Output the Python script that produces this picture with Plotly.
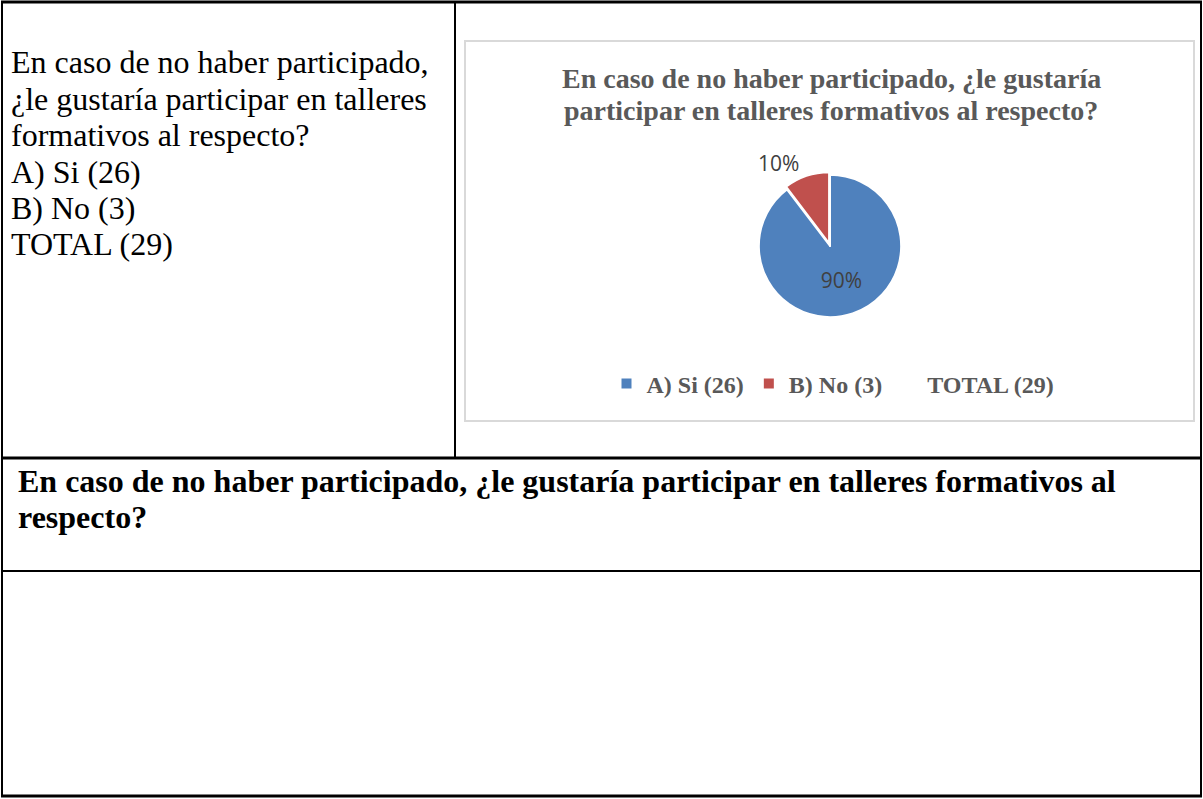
import plotly.graph_objects as go

W, H = 1203, 799

labels = ["A) Si (26)", "B) No (3)", "TOTAL (29)"]
values = [26, 3, 0]
colors = ["#4f81bd", "#c0504d", "rgba(0,0,0,0)"]
title_lines = ["En caso de no haber participado, ¿le gustaría",
               "participar en talleres formativos al respecto?"]
left_lines = ["En caso de no haber participado,", "¿le gustaría participar en talleres",
              "formativos al respecto?", "A) Si (26)", "B) No (3)", "TOTAL (29)"]
bottom_lines = ["En caso de no haber participado, ¿le gustaría participar en talleres formativos al",
                "respecto?"]

def px(x):
    return x / W

def py(y):
    return 1 - y / H

fig = go.Figure()
fig.add_trace(go.Pie(
    labels=["<b>%s</b>" % l for l in labels], values=values, sort=False,
    direction="clockwise", rotation=0,
    marker=dict(colors=colors, line=dict(color="white", width=2)),
    pull=[0, 0.04, 0],
    texttemplate=["%{percent:.0%}", "%{percent:.0%}", ""],
    textposition=["inside", "outside", "none"],
    insidetextorientation="horizontal",
    textfont=dict(family="Open Sans, Liberation Sans", size=21, color="#404040"),
    domain=dict(x=[px(756), px(904)], y=[py(320), py(172)]),
    hoverinfo="label+value+percent",
))

shapes = []
def line(x0, y0, x1, y1, w=2, c="black"):
    shapes.append(dict(type="line", xref="paper", yref="paper", x0=px(x0), y0=py(y0),
                       x1=px(x1), y1=py(y1), line=dict(color=c, width=w)))

# table borders
line(1, 2, 1202, 2, 3)
line(2, 1, 2, 797, 2)
line(1201, 1, 1201, 797, 2)
line(455, 2, 455, 458, 2)
line(1, 458, 1202, 458, 3)
line(1, 571, 1202, 571, 2)
line(1, 796, 1202, 796, 3)
# chart box
shapes.append(dict(type="rect", xref="paper", yref="paper", x0=px(465), y0=py(421),
                   x1=px(1194), y1=py(41), line=dict(color="#d9d9d9", width=2)))

annotations = []
for i, t in enumerate(left_lines):
    annotations.append(dict(text=t, x=px(9), y=py(62 + 36.5 * i), xref="paper", yref="paper",
                            xanchor="left", yanchor="middle", showarrow=False,
                            font=dict(family="Liberation Serif", size=32, color="black")))
for i, t in enumerate(title_lines):
    annotations.append(dict(text="<b>%s</b>" % t, x=px(831), y=py(78 + 33 * i), xref="paper",
                            yref="paper", xanchor="center", yanchor="middle", showarrow=False,
                            font=dict(family="Liberation Serif", size=28, color="#595959")))
for i, t in enumerate(bottom_lines):
    annotations.append(dict(text="<b>%s</b>" % t, x=px(16), y=py(481 + 36 * i), xref="paper",
                            yref="paper", xanchor="left", yanchor="middle", showarrow=False,
                            font=dict(family="Liberation Serif", size=32, color="black")))

fig.update_layout(
    width=W, height=H, margin=dict(l=0, r=0, t=0, b=0),
    paper_bgcolor="white", plot_bgcolor="white",
    shapes=shapes, annotations=annotations,
    showlegend=True,
    legend=dict(orientation="h", x=px(833), y=py(384), xanchor="center", yanchor="middle",
                font=dict(family="Liberation Serif", size=24, color="#595959"),
                itemwidth=30, traceorder="normal"),
)
fig.write_html("out.html", config={"displayModeBar": False},
               post_script="document.body.style.margin='0';document.body.style.padding='0';")
